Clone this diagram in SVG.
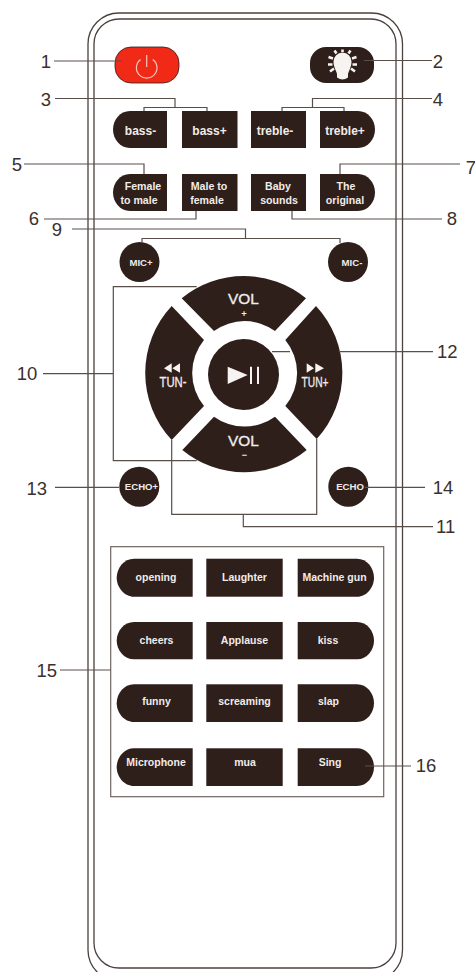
<svg xmlns="http://www.w3.org/2000/svg" width="475" height="972" viewBox="0 0 475 972">
<style>
text{font-family:"Liberation Sans",Arial,sans-serif}
.body{fill:none;stroke:#4a403d;stroke-width:1.3}
.btn{fill:#2e1f1b}
.t{fill:#f1ece9;font-weight:700;text-anchor:middle;font-size:10.5px}
.b{font-size:12px}
.m{font-size:10.6px}
.c{font-size:9.6px}
.s{font-size:9.5px}
.k{font-weight:400;font-size:15.4px;stroke:#f1ece9;stroke-width:.35}
.w{fill:#f6f3f1;stroke:none}
.n{fill:#3a302d;font-size:18.500px;text-anchor:middle}
.l{fill:none;stroke:#5a4e4b;stroke-width:1.2}
</style>
<rect width="475" height="972" fill="#ffffff"/>
<g id="body">
<rect class="body" x="88" y="13" width="314.500" height="968" rx="31" ry="31"/>
<rect class="body" x="94" y="19" width="302" height="949" rx="25" ry="25"/>
</g>
<g id="power"><rect x="115" y="47" width="64" height="36" rx="16" fill="#f02a17" stroke="#2e1f1b" stroke-width=".8"/><path d="M152.800 59.500A10.300 10.300 0 1 1 140.600 59.500M146.700 55V67" fill="none" stroke="#f7c9bd" stroke-width="1.200"/></g>
<g id="light"><rect class="btn" x="310" y="47" width="64" height="36" rx="16"/><path class="w" d="M337 74C336 70 333.500 67 333.500 61.500A8.800 8.800 0 0 1 351.500 61.500C351.500 67 349 70 348 74V77.500Q342.500 81.500 337 77.500Z"/><path d="M342.500 49.500V52M334.500 50.500L336.500 53.500M350.500 50.500L348.500 53.500M328.500 57L333 58.500M356.500 57L352 58.500M328 64.500H332.500M357 64.500H352.500M330 71.500L334 68.500M355 71.500L351 68.500" stroke="#f6f3f1" stroke-width="2.600" fill="none"/></g>
<g id="bass-minus"><path class="btn" d="M167 111V148H130C120 148 113 139 113 129.500C113 120 120 111 130 111Z"/><text class="t b" x="140.500" y="135">bass-</text></g>
<g id="bass-plus"><rect class="btn" x="182" y="111" width="55.500" height="37"/><text class="t b" x="209.500" y="135">bass+</text></g>
<g id="treble-minus"><rect class="btn" x="251" y="111" width="55" height="37"/><text class="t b" x="275" y="135">treble-</text></g>
<g id="treble-plus"><path class="btn" d="M320 111V148H358C368 148 375 139 375 129.500C375 120 368 111 358 111Z"/><text class="t b" x="345" y="135">treble+</text></g>
<g id="female-to-male"><path class="btn" d="M167 174V211H130C120 211 113 202 113 192.500C113 183 120 174 130 174Z"/><text class="t m" x="143" y="190">Female</text><text class="t m" x="139" y="204">to male</text></g>
<g id="male-to-female"><rect class="btn" x="182" y="174" width="55.500" height="37"/><text class="t m" x="209" y="190">Male to</text><text class="t m" x="207" y="204">female</text></g>
<g id="baby-sounds"><rect class="btn" x="251" y="174" width="55" height="37"/><text class="t m" x="278" y="190">Baby</text><text class="t m" x="279" y="204">sounds</text></g>
<g id="the-original"><path class="btn" d="M320 174V211H358C368 211 375 202 375 192.500C375 183 368 174 358 174Z"/><text class="t m" x="346" y="190">The</text><text class="t m" x="345" y="204">original</text></g>
<g id="mic-plus"><circle class="btn" cx="139.500" cy="262" r="20"/><text class="t c" x="141" y="265.500">MIC+</text></g>
<g id="mic-minus"><circle class="btn" cx="348" cy="262" r="20"/><text class="t c" x="352" y="265.500">MIC-</text></g>
<g id="vol-plus"><path class="btn" d="M181.700 298.300A98 98 0 0 1 306 298.300L275 331A52 52 0 0 0 214 331Z"/><text class="t k" x="243.500" y="304">VOL</text><text class="t s" x="244" y="316.500">+</text></g>
<g id="vol-minus"><path class="btn" d="M182.300 450A98 98 0 0 0 306.700 450L275 416.700A52 52 0 0 1 214 416.700Z"/><text class="t k" x="243.500" y="446">VOL</text><text class="t s" style="font-size:9px" x="244.500" y="457.500">−</text></g>
<g id="tun-minus"><path class="btn" d="M171.700 306A98 98 0 0 0 171.700 440L204 406A52 52 0 0 1 204 340Z"/><path class="w" d="M171.700 363.300L164 368.300L171.700 372.700ZM180 363.300L172.300 368.300L180 372.700Z"/><text class="t k" x="173" y="387" textLength="27" lengthAdjust="spacingAndGlyphs">TUN-</text></g>
<g id="tun-plus"><path class="btn" d="M316 306A98 98 0 0 1 316.700 439L285.300 406A52 52 0 0 0 285.300 340Z"/><path class="w" d="M306.700 363.300L314 368.300L306.700 372.700ZM315.300 363.300L324 368.300L315.300 372.700Z"/><text class="t k" x="315" y="387" textLength="27" lengthAdjust="spacingAndGlyphs">TUN+</text></g>
<g id="play-pause"><circle class="btn" cx="243.500" cy="374.500" r="35.500"/><path class="w" d="M227.700 366.700L247.700 375L227.700 384ZM250 366.700H252V384H250ZM257 366.700H259V384H257Z"/></g>
<g id="echo-plus"><circle class="btn" cx="139.300" cy="486.700" r="20"/><text class="t c" x="141.500" y="490">ECHO+</text></g>
<g id="echo"><circle class="btn" cx="348.300" cy="486.700" r="20"/><text class="t c" x="350" y="490">ECHO</text></g>
<g id="sound-panel"><rect x="110.700" y="546.700" width="273" height="250" fill="none" stroke="#6f6462" stroke-width="1.200"/></g>
<g id="opening"><path class="btn" d="M192.700 558.700V596.700H134C124 596.700 116.700 587 116.700 577.700C116.700 568 124 558.700 134 558.700Z"/><text class="t" x="156" y="581">opening</text></g>
<g id="laughter"><rect class="btn" x="206.300" y="558.700" width="76.400" height="38"/><text class="t" x="244.500" y="581">Laughter</text></g>
<g id="machine-gun"><path class="btn" d="M297.700 558.700V596.700H357C367 596.700 374 587 374 577.700C374 568 367 558.700 357 558.700Z"/><text class="t" x="334.500" y="581">Machine gun</text></g>
<g id="cheers"><path class="btn" d="M192.700 622V659.300H134C124 659.300 116.700 650 116.700 640.700C116.700 631 124 622 134 622Z"/><text class="t" x="156.500" y="644">cheers</text></g>
<g id="applause"><rect class="btn" x="206.300" y="622" width="76.400" height="37.300"/><text class="t" x="244.500" y="644">Applause</text></g>
<g id="kiss"><path class="btn" d="M297.700 622V659.300H357C367 659.300 374 650 374 640.700C374 631 367 622 357 622Z"/><text class="t" x="328" y="644">kiss</text></g>
<g id="funny"><path class="btn" d="M192.700 684.300V722H134C124 722 116.700 712.500 116.700 703.200C116.700 693.500 124 684.300 134 684.300Z"/><text class="t" x="156.500" y="705">funny</text></g>
<g id="screaming"><rect class="btn" x="206.300" y="684.300" width="76.400" height="37.700"/><text class="t" x="244.500" y="705">screaming</text></g>
<g id="slap"><path class="btn" d="M297.700 684.300V722H357C367 722 374 712.500 374 703.200C374 693.500 367 684.300 357 684.300Z"/><text class="t" x="328.500" y="705">slap</text></g>
<g id="microphone"><path class="btn" d="M192.700 748.300V786H134C124 786 116.700 776.500 116.700 767.200C116.700 757.500 124 748.300 134 748.300Z"/><text class="t" x="156" y="766">Microphone</text></g>
<g id="mua"><rect class="btn" x="206.300" y="748.300" width="76.400" height="37.700"/><text class="t" x="245" y="766">mua</text></g>
<g id="sing"><path class="btn" d="M297.700 748.300V786H357C367 786 374 776.500 374 767.200C374 757.500 367 748.300 357 748.300Z"/><text class="t" x="330" y="766">Sing</text></g>
<g id="connectors">
<path class="l" d="M54 61H122"/>
<path class="l" d="M364 60.500H432"/>
<path class="l" d="M55 98.500H175V107.500M144 111V107.500H207V111"/>
<path class="l" d="M432 98.500H312.500V107.500M282 111V107.500H344V111"/>
<path class="l" d="M24 164H144V174"/>
<path class="l" d="M44 219H196V211"/>
<path class="l" d="M460 164H340V174"/>
<path class="l" d="M292 211V219H442"/>
<path class="l" d="M72 229H245.500V238.500M142 243V238.500H340V243"/>
<path class="l" d="M43 373.700H113.300M196.700 286.700H113.300V460.700H196.700"/>
<path class="l" d="M171.700 440V514.300H316.700V439M243.300 514.300V526.700H433"/>
<path class="l" d="M272 351.700H290M338.800 351.700H433"/>
<path class="l" d="M55 487.300H119"/>
<path class="l" d="M365 487.300H425"/>
<path class="l" d="M60 670H110.700"/>
<path class="l" d="M365 766H411"/>
</g>
<g id="labels">
<text class="n" x="46" y="67.500">1</text><text class="n" x="438" y="67.500">2</text>
<text class="n" x="46" y="106">3</text><text class="n" x="438" y="106">4</text>
<text class="n" x="17" y="171">5</text><text class="n" x="34" y="225">6</text>
<text class="n" x="471" y="174">7</text><text class="n" x="452" y="225">8</text>
<text class="n" x="57" y="236">9</text><text class="n" x="27" y="380">10</text>
<text class="n" x="445.700" y="533">11</text><text class="n" x="447.300" y="357.700">12</text>
<text class="n" x="36.700" y="495">13</text><text class="n" x="443" y="494">14</text>
<text class="n" x="46.700" y="677">15</text><text class="n" x="426" y="772">16</text>
</g>
</svg>
